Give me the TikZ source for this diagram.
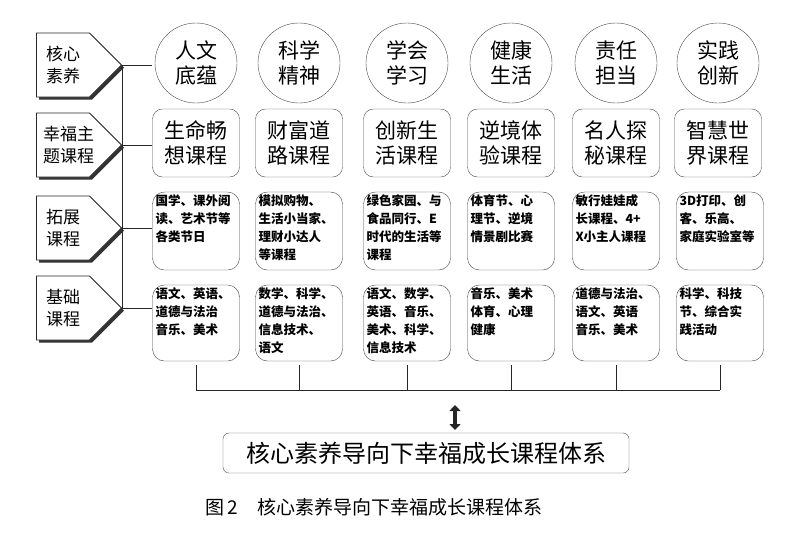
\documentclass[tikz,border=0pt]{standalone}
\usepackage{fontspec}
\setmainfont{Noto Sans CJK SC}
\newfontfamily\capfont{Noto Sans CJK SC}
\usetikzlibrary{shapes.symbols,shapes.geometric,shadows,arrows.meta}

\tikzset{
  level/.style={signal, signal to=east, signal pointer angle=90, draw=black!85, thick,
    fill=white, minimum height=64pt, text width=40pt, inner xsep=6.5pt, align=center,
    font=\fontsize{17}{22}\selectfont,
    drop shadow={shadow xshift=2.5pt, shadow yshift=-2.5pt, fill=black!80, opacity=1}},
  core/.style={ellipse, draw=black!70, minimum width=82pt, minimum height=80pt, inner sep=0pt,
    align=center, font=\fontsize{21}{25}\selectfont},
  theme/.style={rectangle, rounded corners=10pt, draw=black!70, minimum width=87pt, minimum height=68pt,
    align=center, font=\fontsize{21}{25}\selectfont},
  course/.style={rectangle, rounded corners=12pt, draw=black!75, inner sep=3pt,
    font=\fontsize{12.5}{18}\selectfont\bfseries}
}
\newcommand{\cbox}[2]{\parbox[t][#1][t]{81pt}{\raggedright #2}}

\begin{document}
\begin{tikzpicture}[x=1pt,y=-1pt]
\useasboundingbox (0,0) rectangle (800,539);

% left labels
\node[level] (l1) at (63,65) {核心\\素养};
\node[level] (l2) at (63,145) {幸福主\\题课程};
\node[level] (l3) at (63,228) {拓展\\课程};
\node[level] (l4) at (63,308) {基础\\课程};

\draw[black!85, thick] (l1.east) -- (l4.east);
\foreach \k in {1,...,4}
  \draw[black!85, thick] (l\k.east) -- ++(30,0);

% core literacy
\node[core] (c1) at (196,63) {人文\\底蕴};
\node[core] (c2) at (299,63) {科学\\精神};
\node[core] (c3) at (407,63) {学会\\学习};
\node[core] (c4) at (511,63) {健康\\生活};
\node[core] (c5) at (616,63) {责任\\担当};
\node[core] (c6) at (718,63) {实践\\创新};

% theme courses
\node[theme] (t1) at (196,143) {生命畅\\想课程};
\node[theme] (t2) at (299,143) {财富道\\路课程};
\node[theme] (t3) at (407,143) {创新生\\活课程};
\node[theme] (t4) at (511,143) {逆境体\\验课程};
\node[theme] (t5) at (616,143) {名人探\\秘课程};
\node[theme] (t6) at (718,143) {智慧世\\界课程};

% extended courses
\node[course] (e1) at (196,231) {\cbox{72pt}{国学、课外阅\\读、艺术节等\\各类节日}};
\node[course] (e2) at (299,231) {\cbox{72pt}{模拟购物、\\生活小当家、\\理财小达人\\等课程}};
\node[course] (e3) at (407,231) {\cbox{72pt}{绿色家园、与\\食品同行、E\\时代的生活等\\课程}};
\node[course] (e4) at (511,231) {\cbox{72pt}{体育节、心\\理节、逆境\\情景剧比赛}};
\node[course] (e5) at (616,231) {\cbox{72pt}{敏行娃娃成\\长课程、4+\\X小主人课程}};
\node[course] (e6) at (720,231) {\cbox{72pt}{3D打印、创\\客、乐高、\\家庭实验室等}};

% basic courses
\node[course] (b1) at (196,323) {\cbox{70pt}{语文、英语、\\道德与法治\\音乐、美术}};
\node[course] (b2) at (299,323) {\cbox{70pt}{数学、科学、\\道德与法治、\\信息技术、\\语文}};
\node[course] (b3) at (407,323) {\cbox{70pt}{语文、数学、\\英语、音乐、\\美术、科学、\\信息技术}};
\node[course] (b4) at (511,323) {\cbox{70pt}{音乐、美术\\体育、心理\\健康}};
\node[course] (b5) at (616,323) {\cbox{70pt}{道德与法治、\\语文、英语\\音乐、美术}};
\node[course] (b6) at (720,323) {\cbox{70pt}{科学、科技\\节、综合实\\践活动}};

% bracket
\foreach \k in {1,...,6}
  \draw[black!85, thick] ([yshift=-4pt]b\k.south) -- (b\k.south |- 0,390);
\draw[black!85, thick] (b1.south |- 0,390) -- (b6.south |- 0,390);

% system
\node[rectangle, rounded corners=6pt, draw=black!70, minimum width=406pt, minimum height=40pt,
  font=\fontsize{24}{28}\selectfont] (sys) at (426,453) {核心素养导向下幸福成长课程体系};
\coordinate (up) at (455,405);
\coordinate (dn) at (455,430);
\draw[black!85, line width=4pt, {Triangle[width=11pt,length=6pt]}-{Triangle[width=11pt,length=6pt]}] (up) -- (dn);

\node[font=\capfont\fontsize{19}{22}\selectfont, anchor=west] (cap) at (202,507) {图\,2\quad 核心素养导向下幸福成长课程体系};
\end{tikzpicture}
\end{document}
